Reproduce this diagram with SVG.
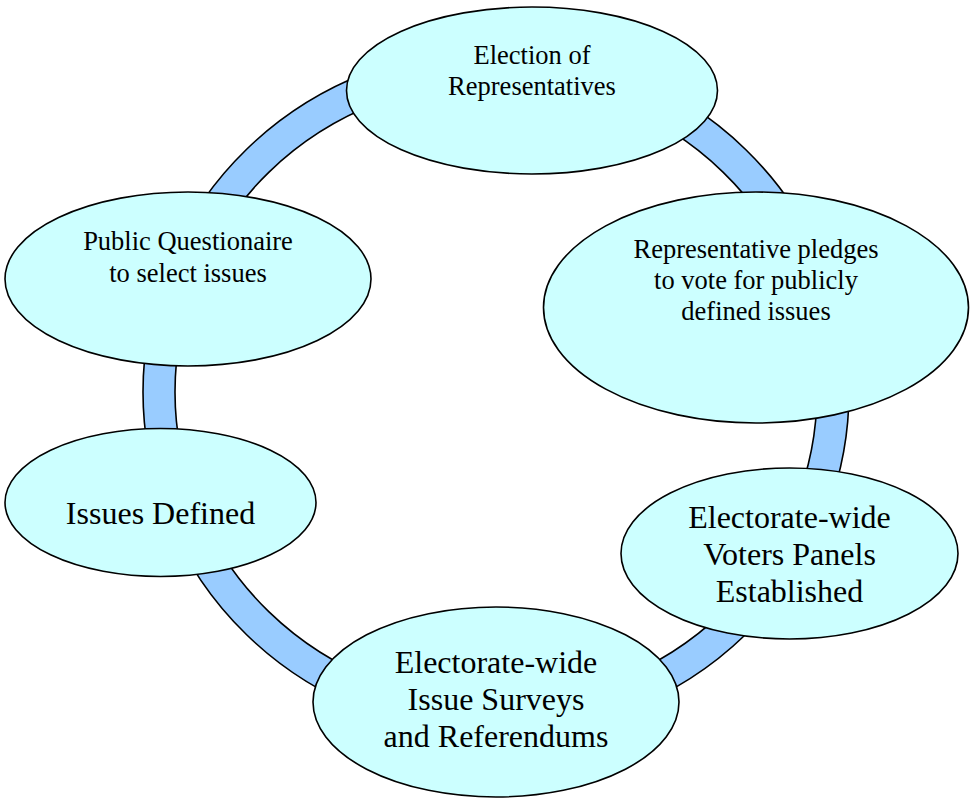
<svg xmlns="http://www.w3.org/2000/svg" width="971" height="798" viewBox="0 0 971 798">
<style>
.node{fill:#CCFFFF;stroke:#000;stroke-width:1.6}
.ring{fill:#99CCFF;stroke:#000;stroke-width:1.6;fill-rule:evenodd}
text{font-family:"Liberation Serif","Times New Roman",serif;fill:#000;text-anchor:middle}
.s{font-size:26.5px}
.l{font-size:32px}
</style>
<rect width="971" height="798" fill="#fff"/>
<g id="connectors">
<path class="ring" d="M143,392 A353,343 0 1,0 849,392 A353,343 0 1,0 143,392 Z M175,392 A321,311 0 1,0 817,392 A321,311 0 1,0 175,392 Z"/>
</g>
<g id="election">
<ellipse class="node" cx="532" cy="90.5" rx="185.5" ry="83.5"/>
<text class="s" x="532" y="64">Election of</text>
<text class="s" x="532" y="95">Representatives</text>
</g>
<g id="questionaire">
<ellipse class="node" cx="188" cy="279" rx="183" ry="87"/>
<text class="s" x="188" y="250">Public Questionaire</text>
<text class="s" x="188" y="281.5">to select issues</text>
</g>
<g id="pledges">
<ellipse class="node" cx="756" cy="307.5" rx="212.5" ry="115.5"/>
<text class="s" x="756" y="258">Representative pledges</text>
<text class="s" x="756" y="289">to vote for publicly</text>
<text class="s" x="756" y="320">defined issues</text>
</g>
<g id="issues">
<ellipse class="node" cx="160.5" cy="502.5" rx="155.5" ry="74"/>
<text class="l" x="160.5" y="524">Issues Defined</text>
</g>
<g id="panels">
<ellipse class="node" cx="789.5" cy="553.5" rx="168.5" ry="85.5"/>
<text class="l" x="789.5" y="527.5">Electorate-wide</text>
<text class="l" x="789.5" y="565">Voters Panels</text>
<text class="l" x="789.5" y="602">Established</text>
</g>
<g id="surveys">
<ellipse class="node" cx="496" cy="702" rx="183" ry="95"/>
<text class="l" x="496" y="672.5">Electorate-wide</text>
<text class="l" x="496" y="710">Issue Surveys</text>
<text class="l" x="496" y="747">and Referendums</text>
</g>
</svg>
